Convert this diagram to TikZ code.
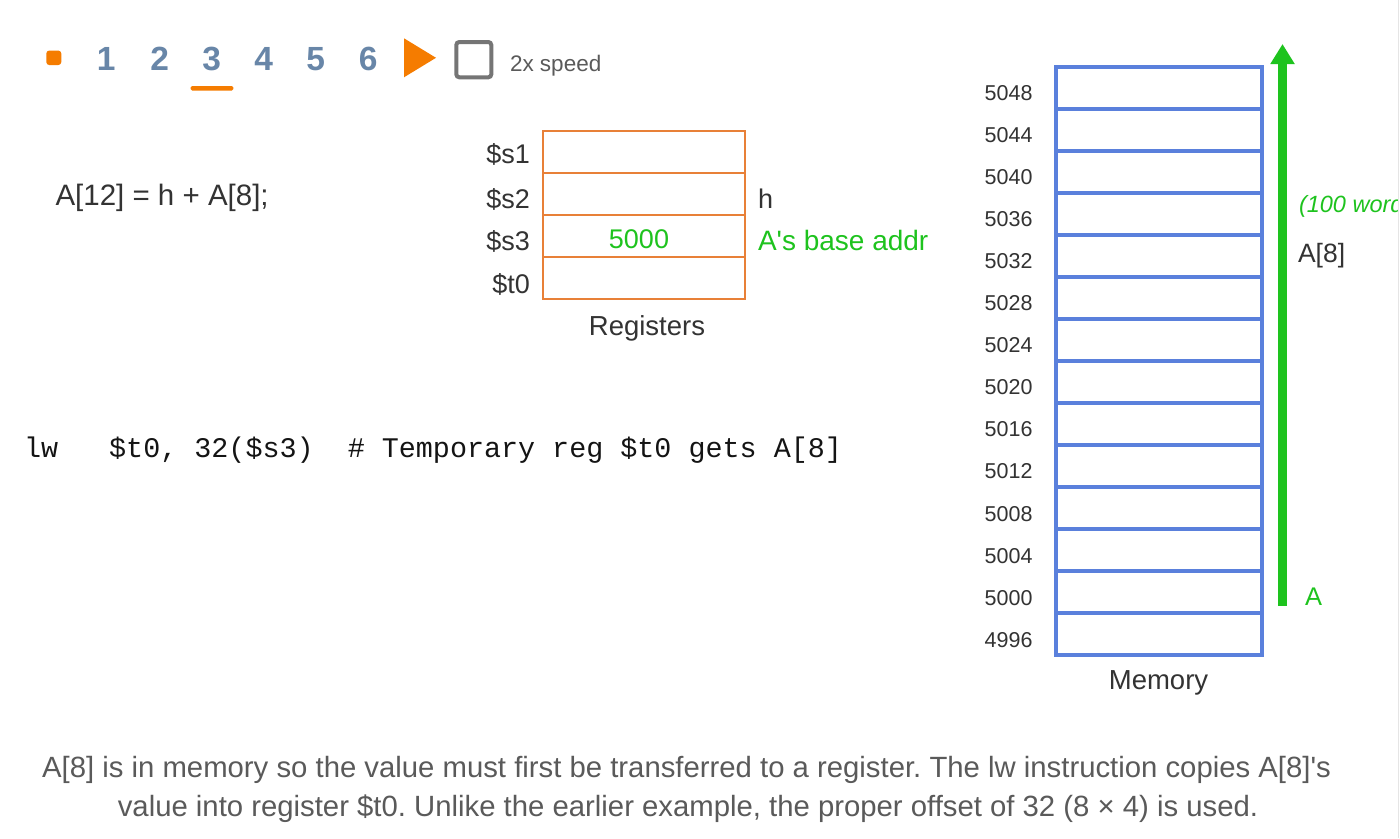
\documentclass[tikz,border=0pt]{standalone}
\usepackage{fontspec}
\setmainfont{Liberation Sans}
\newfontfamily\codefont{Liberation Mono}
\usetikzlibrary{arrows.meta}
\frenchspacing
\definecolor{navorange}{RGB}{245,124,0}
\definecolor{navslate}{RGB}{104,134,168}
\definecolor{boxgray}{RGB}{117,117,117}
\definecolor{txt}{RGB}{51,51,51}
\definecolor{codetxt}{RGB}{20,20,20}
\definecolor{captxt}{RGB}{90,90,90}
\definecolor{regorange}{RGB}{232,128,56}
\definecolor{memblue}{RGB}{90,128,220}
\definecolor{okgreen}{RGB}{30,195,30}
\newcommand\fsz[1]{\fontsize{#1}{#1}\selectfont}
\tikzset{
  lbl/.style={inner sep=0pt, outer sep=0pt, text=txt},
  navnum/.style={inner sep=0pt, text=navslate, font=\fsz{33.5}\bfseries, anchor=base},
  regcell/.style={draw=regorange, line width=1.5pt, minimum width=202pt, minimum height=42pt, inner sep=0pt},
  memcell/.style={draw=memblue, line width=4pt, minimum width=205.5pt, minimum height=42.04pt, inner sep=0pt},
  reglbl/.style={lbl, font=\fsz{27}, anchor=base east},
  memlbl/.style={lbl, font=\fsz{21.5}, anchor=base east},
  grn/.style={text=okgreen}
}
\begin{document}
\begin{tikzpicture}[x=1pt,y=-1pt]
\useasboundingbox (0,0) rectangle (1400,838);
\fill[white] (0,0) rectangle (1400,838);
% right panel edge
\draw[black!10, line width=1.5pt] (1398.5,0) -- (1398.5,838);

% navigation bar
\node[fill=navorange, rounded corners=3pt, minimum width=15pt, minimum height=14.5pt, inner sep=0pt] (navdot) at (53.8,57.8) {};
\node[navnum] (n1) at (106.3,70) {1};
\node[navnum] (n2) at (159.7,70) {2};
\node[navnum] (n3) at (211.7,70) {3};
\node[navnum] (n4) at (263.7,70) {4};
\node[navnum] (n5) at (315.8,70) {5};
\node[navnum] (n6) at (368.2,70) {6};
\fill[navorange, rounded corners=1.5pt] (190.7,86) rectangle (233.3,90.5);
\fill[navorange] (404,38.3) -- (436,57.8) -- (404,77.3) -- cycle;
\draw[boxgray, line width=4pt, rounded corners=3pt] (456.3,42) rectangle (491.3,77.3);
\node[lbl, text=captxt, font=\fsz{22.5}, anchor=base west] (speed) at (510,71.5) {2x speed};

% statement
\node[lbl, font=\fsz{29.5}, anchor=base west] (stmt) at (55.5,205) {A[12] = h + A[8];};

% registers
\node[regcell] (r1) at (644,152) {};
\node[regcell] (r2) at (644,194) {};
\node[regcell] (r3) at (644,236) {};
\node[regcell] (r4) at (644,278) {};
\node[reglbl] (l1) at (530,163) {\$s1};
\node[reglbl] (l2) at (530,208) {\$s2};
\node[reglbl] (l3) at (530,250) {\$s3};
\node[reglbl] (l4) at (530,293) {\$t0};
\node[lbl, grn, font=\fsz{27}, anchor=base] (v3) at (639,248) {5000};
\node[lbl, font=\fsz{27}, anchor=base west] (hlbl) at (758,208) {h};
\node[lbl, grn, font=\fsz{28}, anchor=base west] (alb) at (758,250) {A\textquotesingle s base addr};
\node[lbl, font=\fsz{27.5}, anchor=base] (regtitle) at (647,335) {Registers};

% code line
\node[lbl, text=codetxt, font=\codefont\fsz{28.4}, anchor=base west] (code) at (24,457)
  {lw\ \ \ \$t0,\ 32(\$s3)\ \ \#\ Temporary\ reg\ \$t0\ gets\ A[8]};

% memory
\foreach \i/\a in {0/5048,1/5044,2/5040,3/5036,4/5032,5/5028,6/5024,7/5020,8/5016,9/5012,10/5008,11/5004,12/5000,13/4996}{
  \node[memcell] (m\i) at (1158.75,{66.5+42.04*\i+21.02}) {};
  \node[memlbl] (ml\i) at (1032.5,{100+42.1*\i}) {\a};
}
\node[lbl, font=\fsz{27.5}, anchor=base] (memtitle) at (1158.5,689) {Memory};

% green arrow
\coordinate (abot) at (1282.5,605.7);
\coordinate (atop) at (1282.5,44);
\draw[okgreen, line width=9pt, -{Triangle[width=23pt,length=20pt]}] (abot) -- (atop);
\node[lbl, grn, font=\fsz{25.5}, anchor=base west] (alabel) at (1305,605) {A};
\node[lbl, font=\fsz{26.5}, anchor=base west] (a8) at (1298,262) {A[8]};
\begin{scope}
\clip (0,0) rectangle (1397.5,838);
\node[lbl, grn, font=\fsz{23.5}\itshape, anchor=base west] (words) at (1299,212) {(100 words)};
\end{scope}

% caption
\node[lbl, text=captxt, font=\fsz{29.3}, anchor=base, align=center] (cap1) at (686.5,777)
  {A[8] is in memory so the value must first be transferred to a register. The lw instruction copies A[8]\textquotesingle s};
\node[lbl, text=captxt, font=\fsz{29.3}, anchor=base, align=center] (cap2) at (688,816)
  {value into register \$t0. Unlike the earlier example, the proper offset of 32 (8 × 4) is used.};
\end{tikzpicture}
\end{document}
